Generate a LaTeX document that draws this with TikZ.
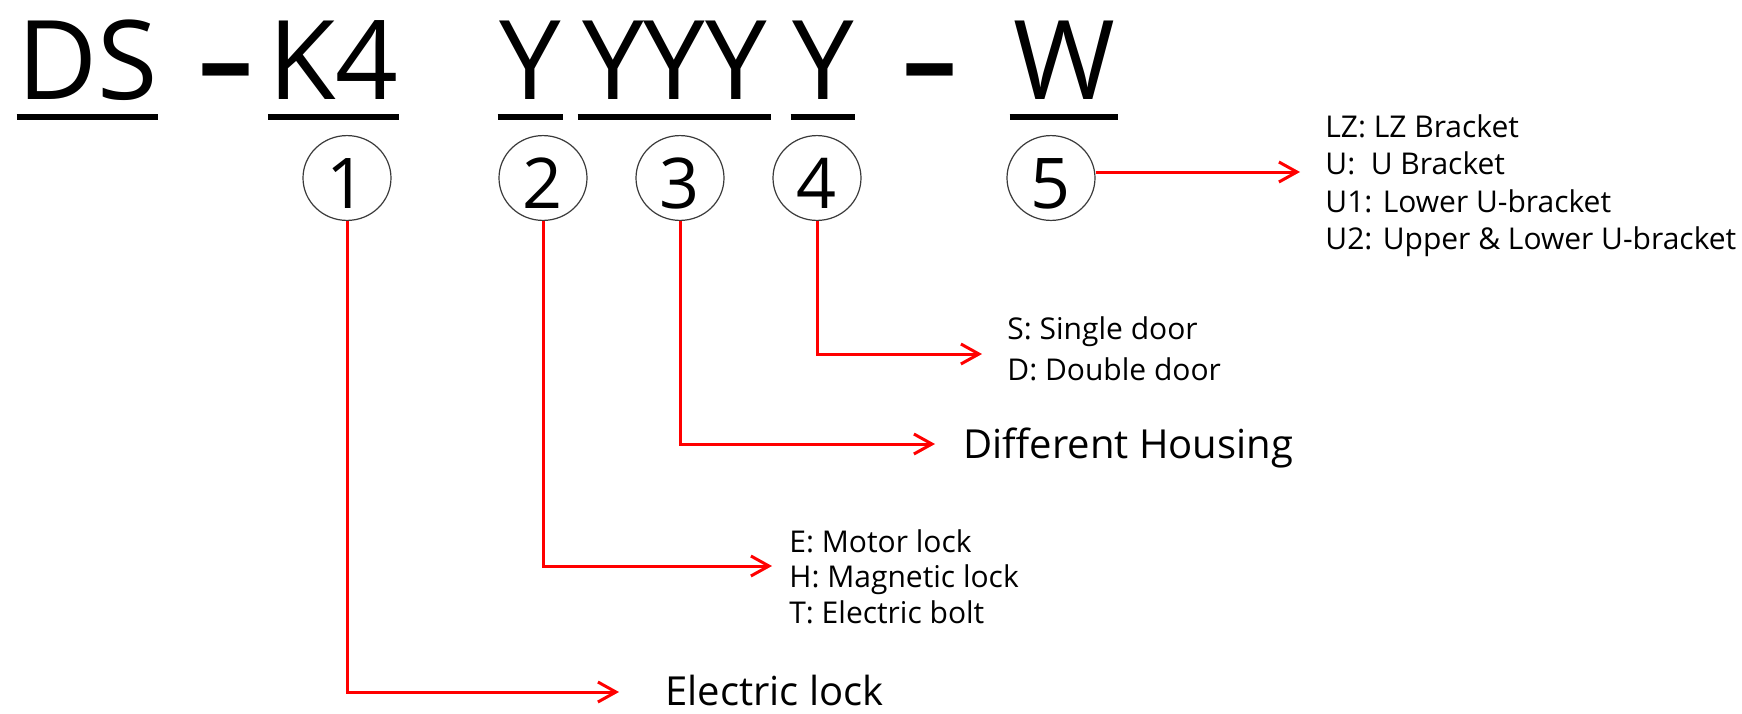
\documentclass[tikz,border=0pt]{standalone}
\usepackage{fontspec}
\setmainfont{Open Sans}
\usetikzlibrary{shapes.geometric,arrows.meta,calc}
\definecolor{calloutred}{HTML}{FF0000}
\definecolor{circlegray}{HTML}{3A3A3A}

\begin{document}
\begin{tikzpicture}[
    x=0.5pt, y=-0.5pt,
    >={Straight Barb[length=9pt,width=10pt]},
    every node/.style={inner sep=0pt},
    codepart/.style={anchor=base, font=\fontsize{55}{60}\selectfont},
    dashpart/.style={anchor=base, font=\fontsize{55}{60}\selectfont\bfseries},
    numcircle/.style={
        ellipse,
        draw=circlegray,
        line width=0.6pt,
        minimum width=44pt,
        minimum height=41.5pt,
        font=\fontsize{35}{40}\selectfont,
        text height=30pt,
        text depth=0pt
    },
    callout/.style={->, calloutred, line width=1.5pt},
    optlist/.style={anchor=north west, align=left, font=\fontsize{15}{#1}\selectfont},
    bigtext/.style={anchor=base west, font=\fontsize{20}{24}\selectfont},
    underbar/.style={line width=3pt}
]
\path[use as bounding box] (0,0) rectangle (1742,713);

% model code
\node[codepart, minimum width=70.5pt] (ds) at (87.5,99) {DS};
\node[dashpart] (dasha) at (226,99) {–};
\node[codepart, minimum width=63.5pt] (k4) at (333.5,99) {K4};
\node[codepart, minimum width=32.5pt] (ya) at (530.5,99) {Y};
\node[codepart, minimum width=96.5pt] (yb) at (674.5,99) {YYY};
\node[codepart, minimum width=32pt] (yc) at (823,99) {Y};
\node[dashpart] (dashb) at (930,99) {–};
\node[codepart, minimum width=54pt] (w) at (1064,99) {W};

\foreach \part in {ds,k4,ya,yb,yc,w}
    \draw[underbar] ($(\part.base west)+(0,18)$) -- ($(\part.base east)+(0,18)$);

% numbered marks
\node[numcircle] (c1) at (347,178) {1};
\node[numcircle] (c2) at (543,178) {2};
\node[numcircle] (c3) at (680,178) {3};
\node[numcircle] (c4) at (817,178) {4};
\node[numcircle] (c5) at (1051,178) {5};

% explanations
\node[bigtext] (elock) at (665,705) {Electric lock};
\node[optlist=17.75pt] (lockopts) at (789,529) {E: Motor lock\\H: Magnetic lock\\T: Electric bolt};
\node[bigtext] (housing) at (963,458) {Different Housing};
\node[optlist=20.5pt] (dooropts) at (1007,316) {S: Single door\\D: Double door};
\node[optlist=18.75pt] (bracketopts) at (1325,114) {LZ: LZ Bracket\\U:\ \ U Bracket\\U1: Lower U-bracket\\U2: Upper \& Lower U-bracket};

\draw[callout, shorten >=23pt] (c1.south) |- ([yshift=6.5pt]elock.base west);
\draw[callout, shorten >=8.5pt] (c2.south) |- ([yshift=-18.5pt]lockopts.north west);
\draw[callout, shorten >=14pt] (c3.south) |- ([yshift=7pt]housing.base west);
\draw[callout, shorten >=12.5pt] (c4.south) |- ([yshift=-19pt]dooropts.north west);
\draw[callout, shorten >=12.5pt] ([yshift=3pt]c5.east) -- ([yshift=-29pt]bracketopts.north west);

\end{tikzpicture}
\end{document}
